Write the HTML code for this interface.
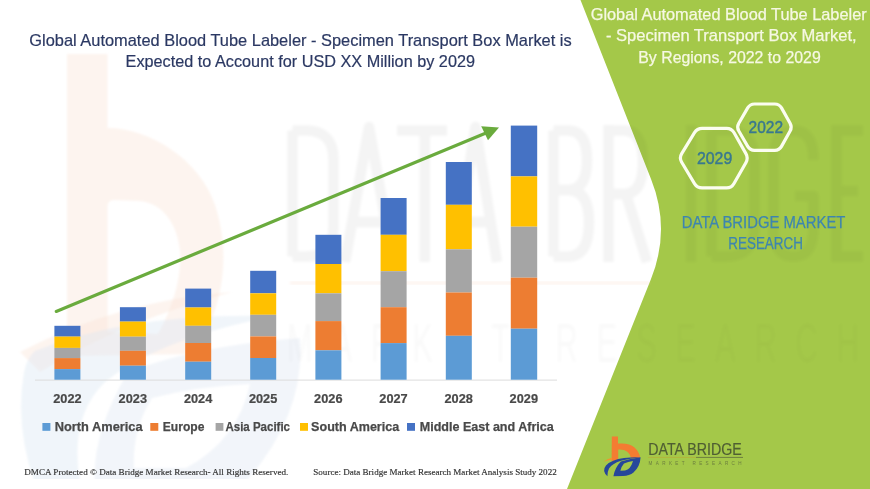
<!DOCTYPE html>
<html>
<head>
<meta charset="utf-8">
<title>Global Automated Blood Tube Labeler - Specimen Transport Box Market</title>
<style>
  html, body { margin: 0; padding: 0; background: #ffffff; }
  body { width: 870px; height: 489px; overflow: hidden; font-family: "Liberation Sans", sans-serif; }
  svg { display: block; }
  text { font-family: "Liberation Sans", sans-serif; }
  .serif { font-family: "Liberation Serif", serif; }
</style>
</head>
<body>
<svg width="870" height="489" viewBox="0 0 870 489">
  <defs>
    <filter id="blur1" x="-10%" y="-10%" width="120%" height="120%"><feGaussianBlur stdDeviation="1.2"/></filter>
    <filter id="blur2" x="-10%" y="-10%" width="120%" height="120%"><feGaussianBlur stdDeviation="1.8"/></filter>
    <filter id="soft" x="-5%" y="-5%" width="110%" height="110%"><feGaussianBlur stdDeviation="0.45"/></filter>
    <clipPath id="wmclip"><rect x="0" y="0" width="870" height="479"/></clipPath>
    <clipPath id="greenclip">
      <path d="M580.5,0 L870,0 L870,489 L567,489 L651,279 Q671,229 651,179 Z"/>
    </clipPath>
  </defs>

  <!-- white background -->
  <rect x="0" y="0" width="870" height="489" fill="#ffffff"/>

  <!-- faint watermark (left logo) -->
  <g clip-path="url(#wmclip)">
  <g id="wm-left" filter="url(#blur1)">
    <path d="M67,54 L107.5,54 L107.5,128 C150,128 200,160 215,205 C230,250 226,305 194,354 L67,356 Z M107.5,207 L107.5,332 L158,334 C174,305 182,275 180,250 C177,226 165,204 140,201 L114,200 Q107.5,200 107.5,207 Z" fill="#FBE3D6" fill-opacity="0.4" fill-rule="evenodd"/>
    <path d="M20,352 Q120,300 232,292 Q120,322 40,372 Z" fill="#FBE3D6" fill-opacity="0.4"/>
    <path d="M35,351 Q130,312 275,316 Q160,338 105,382 Q66,420 82,492 L38,492 Q14,430 24,372 Q27,358 35,351 Z" fill="#DCE6F2" fill-opacity="0.42"/>
    <path d="M128,372 Q200,345 300,338 Q306,420 236,492 L96,492 Q88,440 128,372 Z M152,398 Q132,430 134,468 L186,468 Q238,440 250,384 Q200,386 152,398 Z" fill="#DCE6F2" fill-opacity="0.38" fill-rule="evenodd"/>
  </g>
  </g>

  <!-- green panel -->
  <path id="green" d="M580.5,0 L870,0 L870,489 L567,489 L651,279 Q671,229 651,179 Z" fill="#A4C849"/>

  <!-- faint watermark lettering (over white and green) -->
  <defs>
    <g id="wmletters" fill="none" stroke="#000000" stroke-width="10.5" stroke-linejoin="round">
      <path d="M292.5,130.5 L292.5,256.5 M292.5,130.5 L306,130.5 Q333.5,130.5 333.5,160 L333.5,227 Q333.5,256.5 306,256.5 L292.5,256.5"/>
      <path d="M345,262 L369,127 L393,262 M352,222 L386,222"/>
      <path d="M397,130.5 L447,130.5 M424.8,130.5 L424.8,262"/>
      <path d="M454,262 L475.5,127 L497,262 M460,222 L491,222"/>
      <path d="M553.5,130.5 L553.5,256.5 M553.5,130.5 L568,130.5 Q587,130.5 587,160 Q587,190 568,190 L553.5,190 M568,190 Q589,190 589,222 Q589,256.5 568,256.5 L553.5,256.5"/>
      <path d="M608.5,125 L608.5,262 M608.5,130.5 L624,130.5 Q643,130.5 643,162 Q643,194 624,194 L608.5,194 M626,194 L647,262"/>
      <path d="M691,125 L691,262"/>
      <path d="M711.5,130.5 L711.5,256.5 M711.5,130.5 L726,130.5 Q754.5,130.5 754.5,160 L754.5,227 Q754.5,256.5 726,256.5 L711.5,256.5"/>
      <path d="M813.5,160 Q813.5,130.5 793.5,130.5 Q773.5,130.5 773.5,160 L773.5,227 Q773.5,256.5 793.5,256.5 Q813.5,256.5 813.5,227 L813.5,196 L795,196"/>
      <path d="M836.5,125 L836.5,262 M836.5,130.5 L863,130.5 M836.5,191 L858,191 M836.5,256.5 L863,256.5"/>
      <text transform="translate(287,362) scale(0.55,1)" x="0" y="0" font-size="56" fill="#000000" stroke="none" textLength="1040" lengthAdjust="spacing" opacity="0.55">MARKET RESEARCH</text>
    </g>
    <clipPath id="whiteclip">
      <path d="M0,0 L580.5,0 L651,179 Q671,229 651,279 L567,489 L0,489 Z"/>
    </clipPath>
  </defs>
  <g clip-path="url(#whiteclip)"><use href="#wmletters" filter="url(#blur2)" opacity="0.044"/></g>
  <g clip-path="url(#greenclip)"><use href="#wmletters" filter="url(#blur2)" opacity="0.032"/></g>
  <g filter="url(#blur2)">
    <rect x="290" y="281.5" width="360" height="3" fill="#F6C9AE" fill-opacity="0.22"/>
  </g>

  <!-- chart title -->
  <g fill="#2C3963" stroke="#2C3963" stroke-width="0.2" font-size="16.2" filter="url(#soft)">
    <text x="29.3" y="45.7" textLength="542.4" lengthAdjust="spacingAndGlyphs">Global Automated Blood Tube Labeler - Specimen Transport Box Market is</text>
    <text x="125.6" y="67.3" textLength="349.4" lengthAdjust="spacingAndGlyphs">Expected to Account for USD XX Million by 2029</text>
  </g>

  <!-- axis line -->
  <rect x="35" y="379.6" width="522" height="1" fill="#DCDCDC"/>

  <!-- bars -->
  <g id="bars" filter="url(#soft)">
    <!-- 2022 -->
    <g transform="translate(54.4,0)">
      <rect x="0" y="325.8" width="26" height="10.8" fill="#4472C4"/>
      <rect x="0" y="336.6" width="26" height="11.3" fill="#FFC000"/>
      <rect x="0" y="347.9" width="26" height="10.2" fill="#A5A5A5"/>
      <rect x="0" y="358.1" width="26" height="11" fill="#ED7D31"/>
      <rect x="0" y="369.1" width="26" height="10.6" fill="#5B9BD5"/>
    </g>
    <!-- 2023 -->
    <g transform="translate(119.9,0)">
      <rect x="0" y="307.2" width="26" height="14.4" fill="#4472C4"/>
      <rect x="0" y="321.6" width="26" height="15.1" fill="#FFC000"/>
      <rect x="0" y="336.7" width="26" height="14.1" fill="#A5A5A5"/>
      <rect x="0" y="350.8" width="26" height="14.9" fill="#ED7D31"/>
      <rect x="0" y="365.7" width="26" height="14" fill="#5B9BD5"/>
    </g>
    <!-- 2024 -->
    <g transform="translate(185.2,0)">
      <rect x="0" y="288.6" width="26" height="18.9" fill="#4472C4"/>
      <rect x="0" y="307.5" width="26" height="18.3" fill="#FFC000"/>
      <rect x="0" y="325.8" width="26" height="17.2" fill="#A5A5A5"/>
      <rect x="0" y="343" width="26" height="18.7" fill="#ED7D31"/>
      <rect x="0" y="361.7" width="26" height="18" fill="#5B9BD5"/>
    </g>
    <!-- 2025 -->
    <g transform="translate(250.2,0)">
      <rect x="0" y="270.8" width="26" height="22.5" fill="#4472C4"/>
      <rect x="0" y="293.3" width="26" height="21.5" fill="#FFC000"/>
      <rect x="0" y="314.8" width="26" height="21.6" fill="#A5A5A5"/>
      <rect x="0" y="336.4" width="26" height="21.6" fill="#ED7D31"/>
      <rect x="0" y="358" width="26" height="21.7" fill="#5B9BD5"/>
    </g>
    <!-- 2026 -->
    <g transform="translate(315.4,0)">
      <rect x="0" y="234.8" width="26" height="29.2" fill="#4472C4"/>
      <rect x="0" y="264" width="26" height="29.3" fill="#FFC000"/>
      <rect x="0" y="293.3" width="26" height="27.8" fill="#A5A5A5"/>
      <rect x="0" y="321.1" width="26" height="29.2" fill="#ED7D31"/>
      <rect x="0" y="350.3" width="26" height="29.4" fill="#5B9BD5"/>
    </g>
    <!-- 2027 -->
    <g transform="translate(380.6,0)">
      <rect x="0" y="198" width="26" height="36.8" fill="#4472C4"/>
      <rect x="0" y="234.8" width="26" height="36.4" fill="#FFC000"/>
      <rect x="0" y="271.2" width="26" height="36" fill="#A5A5A5"/>
      <rect x="0" y="307.2" width="26" height="35.9" fill="#ED7D31"/>
      <rect x="0" y="343.1" width="26" height="36.6" fill="#5B9BD5"/>
    </g>
    <!-- 2028 -->
    <g transform="translate(445.8,0)">
      <rect x="0" y="162" width="26" height="42.8" fill="#4472C4"/>
      <rect x="0" y="204.8" width="26" height="44.5" fill="#FFC000"/>
      <rect x="0" y="249.3" width="26" height="43.2" fill="#A5A5A5"/>
      <rect x="0" y="292.5" width="26" height="43.3" fill="#ED7D31"/>
      <rect x="0" y="335.8" width="26" height="43.9" fill="#5B9BD5"/>
    </g>
    <!-- 2029 -->
    <g transform="translate(510.8,0)">
      <rect x="0" y="125.6" width="26.4" height="50.8" fill="#4472C4"/>
      <rect x="0" y="176.4" width="26.4" height="50.3" fill="#FFC000"/>
      <rect x="0" y="226.7" width="26.4" height="51" fill="#A5A5A5"/>
      <rect x="0" y="277.7" width="26.4" height="51" fill="#ED7D31"/>
      <rect x="0" y="328.7" width="26.4" height="51" fill="#5B9BD5"/>
    </g>
  </g>

  <!-- growth arrow -->
  <g filter="url(#soft)">
    <line x1="56.2" y1="311.5" x2="486" y2="133" stroke="#6AAB3E" stroke-width="3.1" stroke-linecap="round"/>
    <polygon points="499,127.5 481.2,126.2 488,140.3" fill="#6AAB3E"/>
  </g>

  <!-- year labels -->
  <g font-size="12.6" font-weight="bold" fill="#484848" stroke="#484848" stroke-width="0.2" text-anchor="middle" filter="url(#soft)">
    <text x="67.4" y="402.7" textLength="28.4" lengthAdjust="spacingAndGlyphs">2022</text>
    <text x="132.8" y="402.7" textLength="28.4" lengthAdjust="spacingAndGlyphs">2023</text>
    <text x="198.1" y="402.7" textLength="28.4" lengthAdjust="spacingAndGlyphs">2024</text>
    <text x="263.1" y="402.7" textLength="28.4" lengthAdjust="spacingAndGlyphs">2025</text>
    <text x="328.3" y="402.7" textLength="28.4" lengthAdjust="spacingAndGlyphs">2026</text>
    <text x="393.5" y="402.7" textLength="28.4" lengthAdjust="spacingAndGlyphs">2027</text>
    <text x="458.7" y="402.7" textLength="28.4" lengthAdjust="spacingAndGlyphs">2028</text>
    <text x="523.8" y="402.7" textLength="28.4" lengthAdjust="spacingAndGlyphs">2029</text>
  </g>

  <!-- legend -->
  <g filter="url(#soft)">
    <rect x="42.4" y="423" width="8" height="7.8" fill="#5B9BD5"/>
    <rect x="150.3" y="423" width="8" height="7.8" fill="#ED7D31"/>
    <rect x="215.6" y="423" width="7.8" height="7.8" fill="#A5A5A5"/>
    <rect x="300" y="423" width="8" height="7.8" fill="#FFC000"/>
    <rect x="407" y="423" width="8" height="7.8" fill="#4472C4"/>
    <g font-size="13" font-weight="bold" fill="#484848" stroke="#484848" stroke-width="0.25">
      <text x="54.8" y="430.9" textLength="87.8" lengthAdjust="spacingAndGlyphs">North America</text>
      <text x="162.8" y="430.9" textLength="41.6" lengthAdjust="spacingAndGlyphs">Europe</text>
      <text x="225.5" y="430.9" textLength="64.5" lengthAdjust="spacingAndGlyphs">Asia Pacific</text>
      <text x="311.1" y="430.9" textLength="88.1" lengthAdjust="spacingAndGlyphs">South America</text>
      <text x="419.7" y="430.9" textLength="134.1" lengthAdjust="spacingAndGlyphs">Middle East and Africa</text>
    </g>
  </g>

  <!-- footer -->
  <g font-size="9.2" fill="#303030" stroke="#303030" stroke-width="0.15" filter="url(#soft)">
    <text class="serif" x="24.3" y="474.5" textLength="264" lengthAdjust="spacingAndGlyphs">DMCA Protected © Data Bridge Market Research- All Rights Reserved.</text>
    <text class="serif" x="313.3" y="474.5" textLength="243.4" lengthAdjust="spacingAndGlyphs">Source: Data Bridge Market Research Market Analysis Study 2022</text>
  </g>

  <!-- right panel heading -->
  <g fill="#F6F8E2" stroke="#F6F8E2" stroke-width="0.25" font-size="15.9" filter="url(#soft)">
    <text x="590.7" y="19.6" textLength="276" lengthAdjust="spacingAndGlyphs">Global Automated Blood Tube Labeler</text>
    <text x="606" y="40.8" textLength="250.7" lengthAdjust="spacingAndGlyphs">- Specimen Transport Box Market,</text>
    <text x="638.3" y="62.7" textLength="182.4" lengthAdjust="spacingAndGlyphs">By Regions, 2022 to 2029</text>
  </g>

  <!-- hexagons -->
  <g fill="none" stroke="#FBFDF0" stroke-width="3.2" stroke-linejoin="round" filter="url(#soft)">
    <path d="M681.7,162.3 Q679.1,158.0 681.7,153.7 L694.5,132.6 Q697.1,128.3 702.1,128.3 L726.6,128.3 Q731.6,128.3 734.1,132.7 L745.9,153.6 Q748.4,158.0 746.0,162.4 L734.0,183.5 Q731.6,187.9 726.6,187.9 L702.1,187.9 Q697.1,187.9 694.5,183.6 Z"/>
    <path d="M738.8,131.0 Q736.5,127.1 738.8,123.2 L747.7,107.9 Q750.0,104.0 754.5,104.0 L774.8,104.0 Q779.3,104.0 781.5,107.9 L790.1,123.2 Q792.3,127.1 790.1,131.0 L781.5,146.4 Q779.3,150.3 774.8,150.3 L754.5,150.3 Q750.0,150.3 747.7,146.4 Z"/>
  </g>
  <g fill="#39788F" stroke="#39788F" stroke-width="0.45" font-size="16.6" filter="url(#soft)">
    <text x="697" y="164" textLength="35.2" lengthAdjust="spacingAndGlyphs">2029</text>
    <text x="748.6" y="132.8" textLength="34.5" lengthAdjust="spacingAndGlyphs">2022</text>
  </g>

  <!-- DATA BRIDGE MARKET RESEARCH -->
  <g fill="#3D85B0" stroke="#3D85B0" stroke-width="0.25" font-size="16.8" filter="url(#soft)">
    <text x="681.7" y="227.6" textLength="163.7" lengthAdjust="spacingAndGlyphs">DATA BRIDGE MARKET</text>
    <text x="728.3" y="249.3" textLength="74.6" lengthAdjust="spacingAndGlyphs">RESEARCH</text>
  </g>

  <!-- logo bottom right -->
  <g id="logo" filter="url(#soft)">
    <!-- orange b -->
    <path d="M611.8,436.6 L618,436.6 L618,443.6 Q629,442.6 634.5,447.5 Q639.4,452 640.2,457.8 L631,458.6 Q630.4,454 627,451.4 Q624,449.2 618.2,449.6 L618.2,459.6 L611.6,461.2 Z" fill="#F47B30"/>
    <path d="M603.5,461.8 Q607,458.8 612.2,457.6 L612.2,459.4 Q607.5,460.2 603.5,461.8 Z" fill="#F0922F"/>
    <!-- blue swoosh -->
    <path d="M607.4,476.2 Q601.6,470.6 606,465.4 Q611.5,459.6 624,458 Q632,457 640.6,457.3 Q630,458.6 621,460.8 Q612,463.8 609,468.4 Q607.2,472 607.4,476.6 Z" fill="#27479A"/>
    <!-- blue D -->
    <path d="M620.8,461.6 Q630,458.8 640.6,457.3 Q640,467 633.5,472.4 Q629.5,475.8 623,476 L613.4,476.2 Q614.8,468 620.8,461.6 Z M624,463.6 Q621,467 620.4,470.8 L625,470.6 Q630.6,469.4 633,461 Q628,461.8 624,463.6 Z" fill="#27479A" fill-rule="evenodd"/>
    <text x="648.2" y="454.8" font-size="16.6" fill="#4F5E33" stroke="#4F5E33" stroke-width="0.2" textLength="93.6" lengthAdjust="spacingAndGlyphs">DATA BRIDGE</text>
    <rect x="648" y="456.9" width="48" height="1" fill="#B5B23A" fill-opacity="0.8"/>
    <rect x="696" y="456.9" width="47" height="1" fill="#5F6E3C" fill-opacity="0.8"/>
    <text x="648.6" y="464.5" font-size="4.6" fill="#61713C" fill-opacity="0.85" textLength="93" lengthAdjust="spacing">MARKET RESEARCH</text>
  </g>
</svg>
</body>
</html>
